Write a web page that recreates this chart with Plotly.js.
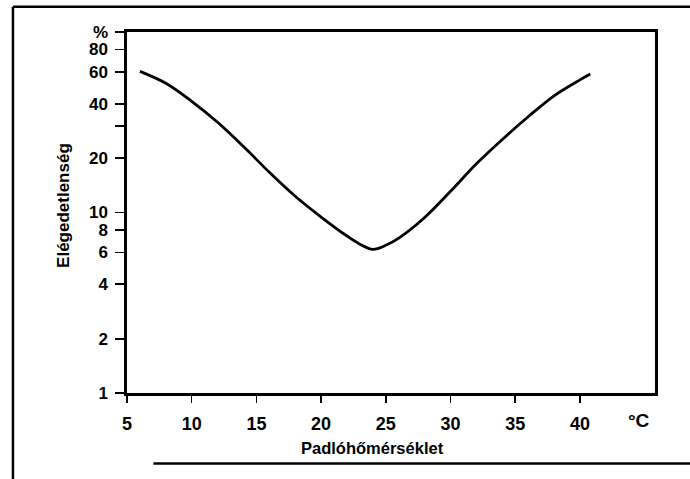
<!DOCTYPE html>
<html>
<head>
<meta charset="utf-8">
<script src="https://cdn.plot.ly/plotly-3.0.1.min.js"></script>
<style>html,body{margin:0;padding:0;background:#fff;}#chart{width:690px;height:479px;}</style>
</head>
<body>
<div id="chart"></div>
<script>
// Floor temperature (°C) and percentage dissatisfied (%)
const temperature = [6, 8, 10, 12, 14, 16, 18, 20, 22, 23, 24, 25, 26, 28, 30, 32, 34, 36, 38, 40, 40.8];
const dissatisfied = [60.5, 52.0, 41.3, 31.6, 23.2, 16.7, 12.3, 9.44, 7.41, 6.68, 6.25, 6.58, 7.21, 9.38, 13.1, 18.6, 25.4, 33.9, 44.3, 54.3, 58.5];

const xTicks = [5, 10, 15, 20, 25, 30, 35, 40];
const yTickVals = [1, 2, 4, 6, 8, 10, 20, 30, 40, 60, 80, 100];
const yTickText = ['1', '2', '4', '6', '8', '10', '20', '', '40', '60', '80', '%'];

const xTitle = 'Padlóhőmérséklet';
const yTitle = 'Elégedetlenség';
const unitLabel = '°C';

const FONT = 'Liberation Sans, Arial, sans-serif';

const trace = {
  x: temperature,
  y: dissatisfied,
  type: 'scatter',
  mode: 'lines',
  line: {color: '#000', width: 2.8, shape: 'spline', smoothing: 1},
  hoverinfo: 'skip'
};

const layout = {
  width: 690,
  height: 479,
  margin: {l: 127, r: 35, t: 32, b: 86},
  paper_bgcolor: '#fff',
  plot_bgcolor: '#fff',
  showlegend: false,
  font: {family: FONT, color: '#000'},
  xaxis: {
    range: [5, 45.8],
    tickvals: xTicks,
    ticktext: xTicks.map(String),
    ticks: 'outside',
    ticklen: 7,
    tickwidth: 1.5,
    tickcolor: '#000',
    ticklabelstandoff: 6,
    showline: true,
    linewidth: 2.6,
    linecolor: '#000',
    mirror: true,
    showgrid: false,
    zeroline: false,
    tickfont: {family: FONT, size: 18, weight: 'bold', color: '#000'}
  },
  yaxis: {
    type: 'log',
    range: [0, 2],
    tickvals: yTickVals,
    ticktext: yTickText,
    ticks: 'outside',
    ticklen: 9,
    tickwidth: 1.8,
    tickcolor: '#000',
    ticklabelstandoff: 4,
    showline: true,
    linewidth: 2.6,
    linecolor: '#000',
    mirror: true,
    showgrid: false,
    zeroline: false,
    tickfont: {family: FONT, size: 17, weight: 'bold', color: '#000'}
  },
  annotations: [
    {text: xTitle, xref: 'paper', yref: 'paper', x: 0.465, y: -0.153, xanchor: 'center', yanchor: 'middle',
     showarrow: false, font: {family: FONT, size: 16.5, weight: 'bold', color: '#000'}},
    {text: yTitle, xref: 'paper', yref: 'paper', x: -0.12, y: 0.52, xanchor: 'center', yanchor: 'middle',
     textangle: -90, showarrow: false, font: {family: FONT, size: 17, weight: 'bold', color: '#000'}},
    {text: unitLabel, xref: 'paper', yref: 'paper', x: 0.97, y: -0.075, xanchor: 'center', yanchor: 'middle',
     showarrow: false, font: {family: FONT, size: 19, weight: 'bold', color: '#000'}}
  ],
  shapes: [
    // outer scanned frame
    {type: 'line', xref: 'paper', yref: 'paper', x0: -0.216, x1: 1.07, y0: 1.07, y1: 1.07, line: {color: '#000', width: 2.5}},
    {type: 'line', xref: 'paper', yref: 'paper', x0: -0.216, x1: -0.216, y0: 1.07, y1: -0.24, line: {color: '#000', width: 2.5}},
    {type: 'line', xref: 'paper', yref: 'paper', x0: 0.05, x1: 1.07, y0: -0.195, y1: -0.195, line: {color: '#000', width: 2.5}}
  ]
};

Plotly.newPlot('chart', [trace], layout, {displayModeBar: false, staticPlot: true});
</script>
</body>
</html>
